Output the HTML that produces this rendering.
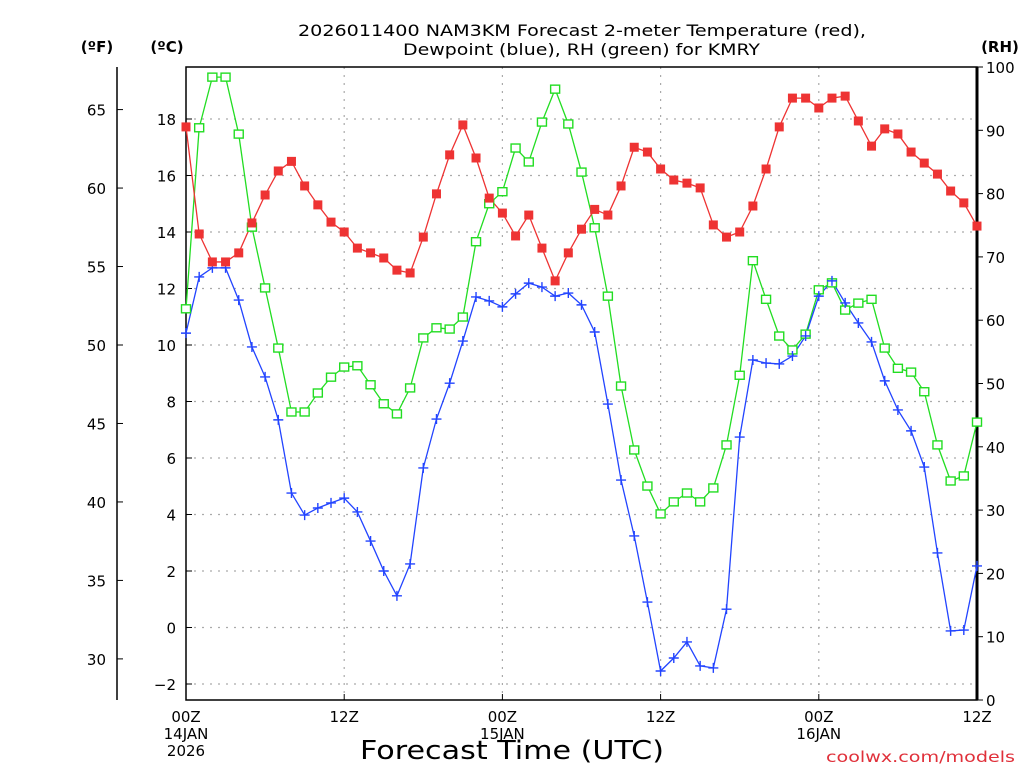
<!DOCTYPE html>
<html><head><meta charset="utf-8"><style>
html,body{margin:0;padding:0;background:#fff;}
svg{display:block;font-family:"DejaVu Sans","Liberation Sans",sans-serif;}
</style></head><body>
<svg id="chart" width="1024" height="768" viewBox="0 0 1024 768" xmlns="http://www.w3.org/2000/svg">
<rect width="1024" height="768" fill="#fff"/>
<g id="grid"></g>
<g id="axes"></g>
<g id="series"></g>
<text x="298" y="36" font-size="16" textLength="568" lengthAdjust="spacingAndGlyphs">2026011400 NAM3KM Forecast 2-meter Temperature (red),</text>
<text x="403" y="55" font-size="16" textLength="357" lengthAdjust="spacingAndGlyphs">Dewpoint (blue), RH (green) for KMRY</text>
<text x="97" y="52" font-size="15" font-weight="bold" text-anchor="middle">(ºF)</text>
<text x="167" y="52" font-size="15" font-weight="bold" text-anchor="middle">(ºC)</text>
<text x="1000" y="52" font-size="15" font-weight="bold" text-anchor="middle">(RH)</text>
<text x="360" y="759" font-size="26" textLength="304" lengthAdjust="spacingAndGlyphs">Forecast Time (UTC)</text>
<text x="826" y="762" font-size="15" fill="#e0303a" textLength="189" lengthAdjust="spacingAndGlyphs">coolwx.com/models</text>
</svg>
<script>
const hours = Array.from({length:61},(_, i)=>i);
const tempC = [17.72,13.93,12.94,12.94,13.26,14.32,15.31,16.16,16.5,15.63,14.96,14.35,14.0,13.43,13.26,13.08,12.65,12.55,13.82,15.35,16.73,17.79,16.62,15.2,14.67,13.86,14.6,13.43,12.27,13.26,14.1,14.8,14.6,15.63,17.0,16.83,16.23,15.84,15.73,15.56,14.25,13.82,14.0,14.92,16.23,17.72,18.74,18.74,18.39,18.74,18.81,17.93,17.04,17.65,17.47,16.83,16.44,16.05,15.45,15.03,14.21];
const dewC = [10.42,12.41,12.73,12.73,11.59,9.93,8.87,7.35,4.76,3.98,4.23,4.41,4.58,4.09,3.06,2.0,1.12,2.25,5.65,7.38,8.65,10.14,11.7,11.56,11.35,11.81,12.19,12.05,11.73,11.84,11.42,10.46,7.91,5.22,3.24,0.9,-1.54,-1.08,-0.51,-1.36,-1.43,0.65,6.74,9.47,9.36,9.33,9.61,10.32,11.73,12.27,11.49,10.78,10.11,8.73,7.7,6.96,5.68,2.64,-0.12,-0.09,2.18];
const rh = [61.8,90.4,98.4,98.4,89.4,74.7,65.1,55.6,45.5,45.5,48.5,51.0,52.6,52.8,49.8,46.8,45.2,49.3,57.2,58.8,58.6,60.5,72.4,78.4,80.3,87.2,85.0,91.3,96.5,91.0,83.4,74.6,63.8,49.6,39.5,33.8,29.4,31.3,32.7,31.3,33.5,40.3,51.3,69.4,63.3,57.5,55.3,57.8,64.8,65.9,61.6,62.7,63.3,55.6,52.4,51.8,48.7,40.3,34.6,35.4,43.9];
const cTicks = [-2,0,2,4,6,8,10,12,14,16,18];
const fTicks = [30,35,40,45,50,55,60,65];
const rhTicks = [0,10,20,30,40,50,60,70,80,90,100];
const xTickHours = [0,12,24,36,48,60];
const xTickLabels = [["00Z","14JAN","2026"],["12Z"],["00Z","15JAN"],["12Z"],["00Z","16JAN"],["12Z"]];

const L=186,R=977,T=67,B=700;
const x = h => L + (R-L)*h/60;
const yC = c => 627.5 - 28.25*c;
const yF = f => yC((f-32)*5/9);
const yRH = v => B - (B-T)*v/100;
const NS="http://www.w3.org/2000/svg";
function mk(tag, attrs, parent){const e=document.createElementNS(NS,tag);for(const k in attrs)e.setAttribute(k,attrs[k]);parent.appendChild(e);return e;}
const grid=document.getElementById('grid'), axes=document.getElementById('axes'), ser=document.getElementById('series');

cTicks.forEach(c=>{
  const g=mk('line',{x1:L,x2:R,y1:yC(c),y2:yC(c),stroke:'#aaa','stroke-dasharray':'2,6','stroke-width':1.2},grid);
  
  
  const t=mk('line',{x1:L,x2:L+6,y1:yC(c),y2:yC(c),stroke:'#000'},axes);
  
  
  const tx=mk('text',{x:176,y:yC(c)+6,'font-size':15,'text-anchor':'end'},axes);
  tx.textContent=(c<0?'\u2212'+(-c):c);
  
  
});
xTickHours.forEach((h,i)=>{
  if(h>0&&h<60){
    const g=mk('line',{x1:x(h),x2:x(h),y1:T,y2:B,stroke:'#aaa','stroke-dasharray':'2,6','stroke-width':1.2},grid);
    
    
  }
  const tk=mk('line',{x1:x(h),x2:x(h),y1:B,y2:B-6,stroke:'#000'},axes);
  
  
  xTickLabels[i].forEach((s,j)=>{
    const t=mk('text',{x:x(h),y:722+j*17,'font-size':15,'text-anchor':'middle'},axes);
    t.textContent=s;
    
    
  });
});
const fr=mk('rect',{x:L,y:T,width:R-L,height:B-T,fill:'none',stroke:'#000','stroke-width':1.5},axes);


const ra=mk('line',{x1:R,x2:R,y1:T,y2:B,stroke:'#000','stroke-width':3},axes);


const fa=mk('line',{x1:117,x2:117,y1:T,y2:B,stroke:'#000','stroke-width':1.5},axes);


fTicks.forEach(f=>{
  const t=mk('line',{x1:117,x2:123,y1:yF(f),y2:yF(f),stroke:'#000'},axes);
  
  
  const tx=mk('text',{x:106,y:yF(f)+6,'font-size':15,'text-anchor':'end'},axes);
  tx.textContent=f;
  
  
});
rhTicks.forEach(v=>{
  const t=mk('line',{x1:R,x2:R+6,y1:yRH(v),y2:yRH(v),stroke:'#000'},axes);
  
  
  const tx=mk('text',{x:986,y:yRH(v)+6,'font-size':15,'text-anchor':'start'},axes);
  tx.textContent=v;
  
  
});

function line(vals,fy,color,name){
  const p=mk('polyline',{points:vals.map((v,i)=>x(hours[i])+','+fy(v)).join(' '),fill:'none',stroke:color,'stroke-width':1.3},ser);
  
  
}
line(rh,yRH,'#22dd22','rh-line');
line(dewC,yC,'#2244ff','dewpoint-line');
line(tempC,yC,'#ee3333','temperature-line');
rh.forEach((v,i)=>{
  const m=mk('rect',{x:x(hours[i])-4.5,y:yRH(v)-4,width:9,height:8,fill:'#fff',stroke:'#22dd22','stroke-width':1.4},ser);
  
  
});
dewC.forEach((v,i)=>{
  const cx=x(hours[i]),cy=yC(v);
  const m=mk('path',{d:`M${cx-5},${cy}H${cx+5}M${cx},${cy-5}V${cy+5}`,stroke:'#2244ff','stroke-width':1.4},ser);
  
  
});
tempC.forEach((v,i)=>{
  const m=mk('rect',{x:x(hours[i])-4.5,y:yC(v)-4.5,width:9,height:9,fill:'#ee3333'},ser);
  
  
});
</script>
</body></html>
